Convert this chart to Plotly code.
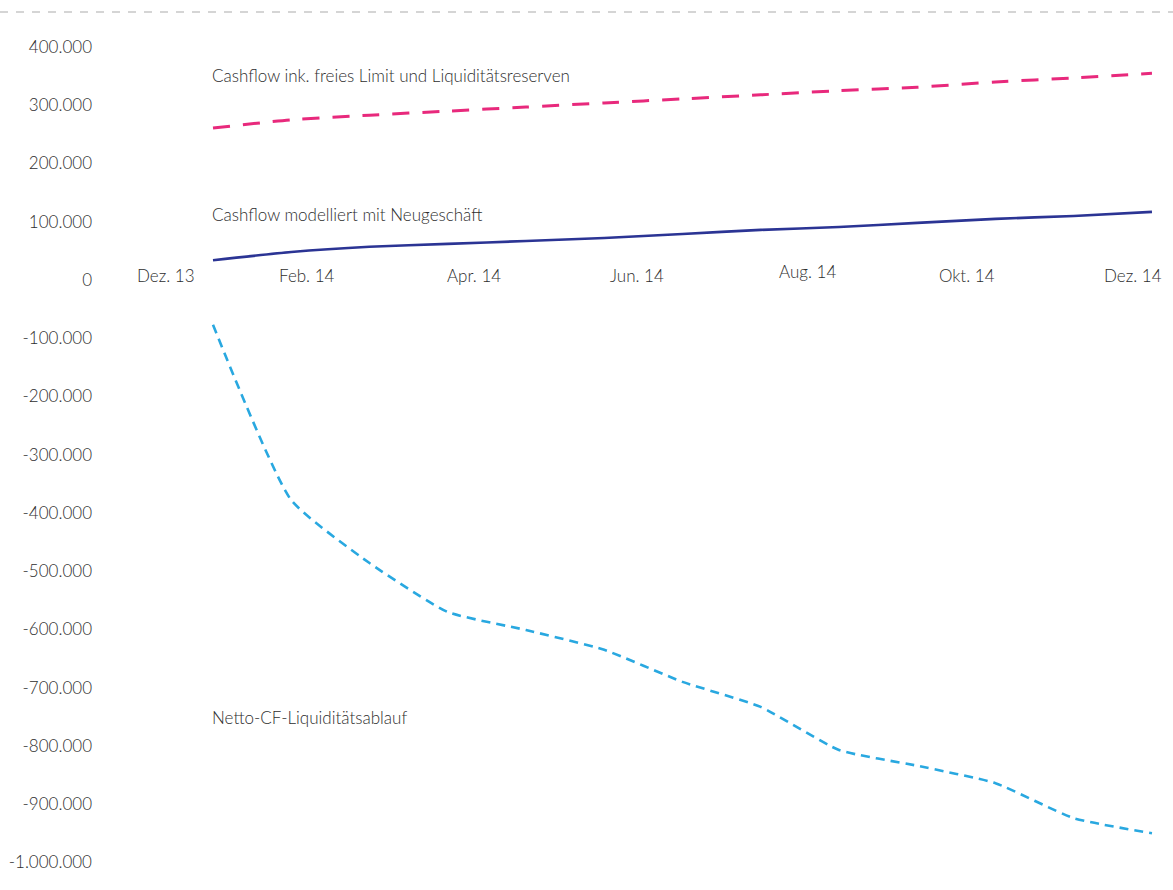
import plotly.graph_objects as go

# Monthly figures, Dez. 13 .. Dez. 14 (index 0..12)
months = ["Dez. 13", "Jan. 14", "Feb. 14", "Mär. 14", "Apr. 14", "Mai 14", "Jun. 14",
          "Jul. 14", "Aug. 14", "Sep. 14", "Okt. 14", "Nov. 14", "Dez. 14"]

cashflow_limit_reserven = [261000, 275000, 283000, 290000, 297000, 304000, 311000,
                           318000, 325000, 331000, 340000, 347000, 355000]
cashflow_neugeschaeft = [34000, 48000, 57000, 62000, 67000, 72000, 79000,
                         86000, 91000, 98000, 105000, 110000, 117000]
netto_cf_ablauf = [-77000, -378000, -486000, -570000, -601000, -635000, -690000,
                   -733000, -807000, -834000, -864000, -924000, -950000]

series_names = ["Cashflow ink. freies Limit und Liquiditätsreserven",
                "Cashflow modelliert mit Neugeschäft",
                "Netto-CF-Liquiditätsablauf"]

x_tick_labels = ["Dez. 13", "Feb. 14", "Apr. 14", "Jun. 14", "Aug. 14", "Okt. 14", "Dez. 14"]
y_tick_values = list(range(-1000000, 400001, 100000))

# layout helpers (month-index positions of the axis labels, label anchor values)
x_label_pos = [-0.60, 1.20, 3.34, 5.42, 7.60, 9.64, 11.76]
x_label_shift = [5, 5, 5, 5, 9, 5, 5]
series_label_y = [352000, 113300, -752000]

x = list(range(len(months)))

TEXT = "#2e2e2e"
FONT = "Lato, 'Open Sans', sans-serif"
FSIZE = 17

fig = go.Figure()
fig.add_trace(go.Scatter(
    x=x, y=cashflow_limit_reserven, mode="lines", name=series_names[0],
    line=dict(color="#E8297C", width=3, dash="17px,13px", shape="spline", smoothing=0.6),
    hoverinfo="y"))
fig.add_trace(go.Scatter(
    x=x, y=cashflow_neugeschaeft, mode="lines", name=series_names[1],
    line=dict(color="#2B3494", width=2.6, shape="spline", smoothing=0.6),
    hoverinfo="y"))
fig.add_trace(go.Scatter(
    x=x, y=netto_cf_ablauf, mode="lines", name=series_names[2],
    line=dict(color="#29A8E0", width=2.6, dash="9px,6px", shape="spline", smoothing=0.5),
    hoverinfo="y"))

annotations = []
for lbl, pos, sh in zip(x_tick_labels, x_label_pos, x_label_shift):
    annotations.append(dict(
        x=pos, y=0, xref="x", yref="y", text=lbl, showarrow=False,
        xanchor="center", yanchor="middle", yshift=sh,
        font=dict(family=FONT, size=FSIZE, color=TEXT, weight=300)))
for name, yv in zip(series_names, series_label_y):
    annotations.append(dict(
        x=0, y=yv, xref="x", yref="y", text=name, showarrow=False,
        xanchor="left", yanchor="middle", xshift=-3,
        font=dict(family=FONT, size=FSIZE, color=TEXT, weight=300)))

fig.update_layout(
    width=1173, height=890,
    margin=dict(l=97, r=5, t=10, b=10),
    paper_bgcolor="white", plot_bgcolor="white",
    showlegend=False,
    annotations=annotations,
    shapes=[dict(type="line", xref="paper", yref="paper",
                 x0=-97 / 1071, x1=1 + 5 / 1071, y0=0.9977, y1=0.9977,
                 line=dict(color="#C8C8C8", width=1.5, dash="8px,8px"))],
    xaxis=dict(range=[-1.4824, 12.205], showgrid=False, zeroline=False,
               showticklabels=False, showline=False, ticks=""),
    yaxis=dict(range=[-1030220, 463599], showgrid=False, zeroline=False,
               showline=False, ticks="",
               tickvals=y_tick_values,
               ticktext=[f"{v:,}".replace(",", ".") for v in y_tick_values],
               tickfont=dict(family=FONT, size=FSIZE, color=TEXT, weight=300),
               ticklabelstandoff=4),
)

fig.write_html("out.html")
